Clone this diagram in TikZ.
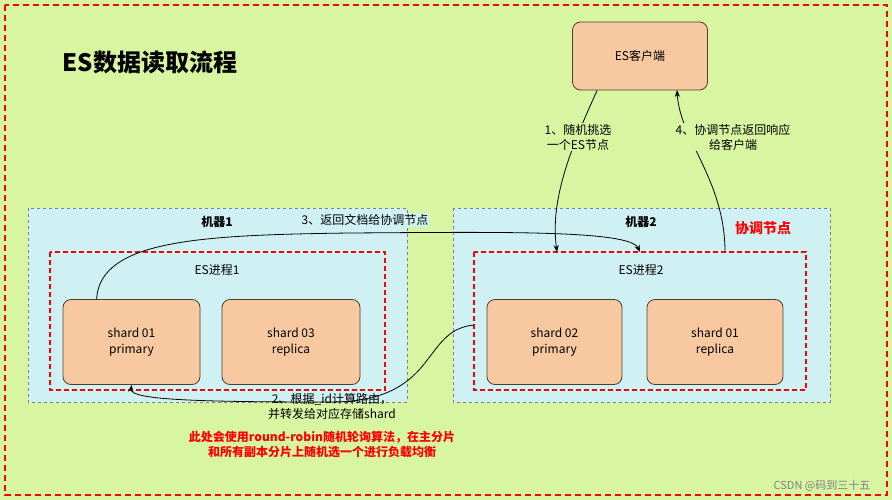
\documentclass[tikz,border=0pt]{standalone}
\usepackage{fontspec}
\setmainfont{Noto Sans CJK SC}
\usetikzlibrary{arrows.meta}
\definecolor{bggreen}{HTML}{D8F5A2}
\definecolor{mblue}{HTML}{D0F1F3}
\definecolor{shardc}{HTML}{F8C9A0}
\definecolor{shardb}{HTML}{4A4030}
\tikzset{
 shard/.style={draw=shardb,fill=shardc,rounded corners=8pt,line width=0.8pt,align=center,font=\fontsize{12}{16}\selectfont,inner sep=0},
 mach/.style={draw=gray,dashed,fill=mblue,line width=0.8pt},
 proc/.style={draw=red,dash pattern=on 5pt off 3pt,line width=1.3pt},
 lbl/.style={font=\fontsize{12}{15}\selectfont,align=center},
 arr/.style={-{Stealth[length=7pt]},line width=0.8pt}
}
\begin{document}
\begin{tikzpicture}[x=1pt,y=-1pt]
\path[use as bounding box] (0,0) rectangle (892,500);
\fill[bggreen] (0,0) rectangle (892,500);
\draw[red,dash pattern=on 6pt off 4pt,line width=1.3pt] (5,5) rectangle (887,495);
\node[font=\fontsize{24}{28}\selectfont\bfseries] (title) at (150,62) {ES数据读取流程};
\node[shard,minimum width=135pt,minimum height=68pt] (client) at (640,56) {ES客户端};
\draw[mach] (28,208) rectangle (407,402);
\draw[mach] (453,208) rectangle (830,402);
\node[lbl,font=\fontsize{12}{14}\selectfont\bfseries] (m1) at (217,222) {机器1};
\node[lbl,font=\fontsize{12}{14}\selectfont\bfseries] (m2) at (641,222) {机器2};
\node[text=red,font=\fontsize{14}{16}\selectfont\bfseries] (coord) at (763,228) {协调节点};
\draw[proc] (50,252) rectangle (385,390);
\draw[proc] (474,252) rectangle (806,390);
\coordinate (p2top1) at (557,252);
\coordinate (p2top2) at (725,252);
\coordinate (p2top3) at (640,252);
\coordinate (p2left) at (474,325);
\node[lbl] (pl1) at (217,270) {ES进程1};
\node[lbl] (pl2) at (641,270) {ES进程2};
\node[shard,minimum width=137pt,minimum height=85pt] (s1) at (131.5,342) {shard 01\\primary};
\node[shard,minimum width=138pt,minimum height=85pt] (s3) at (291,342) {shard 03\\replica};
\node[shard,minimum width=135pt,minimum height=85pt] (s2) at (554.5,342) {shard 02\\primary};
\node[shard,minimum width=136pt,minimum height=85pt] (s4) at (715,342) {shard 01\\replica};
\draw[arr] (client.south west)++(25,0) .. controls (570,150) and (550,200) .. (p2top1);
\draw[arr] (p2top2) .. controls (725,180) and (680,140) .. (677,90);
\draw[arr] (s1.north west)++(34,0) .. controls (100,240) and (200,235) .. (350,233) .. controls (500,232) and (630,230) .. (p2top3);
\draw[arr] (p2left) .. controls (420,330) and (440,402) .. (330,402) .. controls (200,402) and (130,400) .. (s1.south);
\node[lbl,fill=mblue,inner sep=1pt] (t3) at (365,220) {3、返回文档给协调节点};
\node[lbl,fill=bggreen,inner sep=1pt] (t1) at (578,137) {1、随机挑选\\一个ES节点};
\node[lbl,fill=bggreen,inner sep=1pt] (t4) at (733,137) {4、协调节点返回响应\\给客户端};
\node[lbl,inner sep=1pt] (t2) at (332,406) {2、根据\_id计算路由，\\并转发给对应存储shard};
\node[lbl,text=red,font=\fontsize{12}{15}\selectfont\bfseries] (note) at (322,444) {此处会使用round-robin随机轮询算法，在主分片\\和所有副本分片上随机选一个进行负载均衡};
\node[text=gray,font=\fontsize{11}{13}\selectfont] (wm) at (822,486) {CSDN @码到三十五};
\end{tikzpicture}
\end{document}
